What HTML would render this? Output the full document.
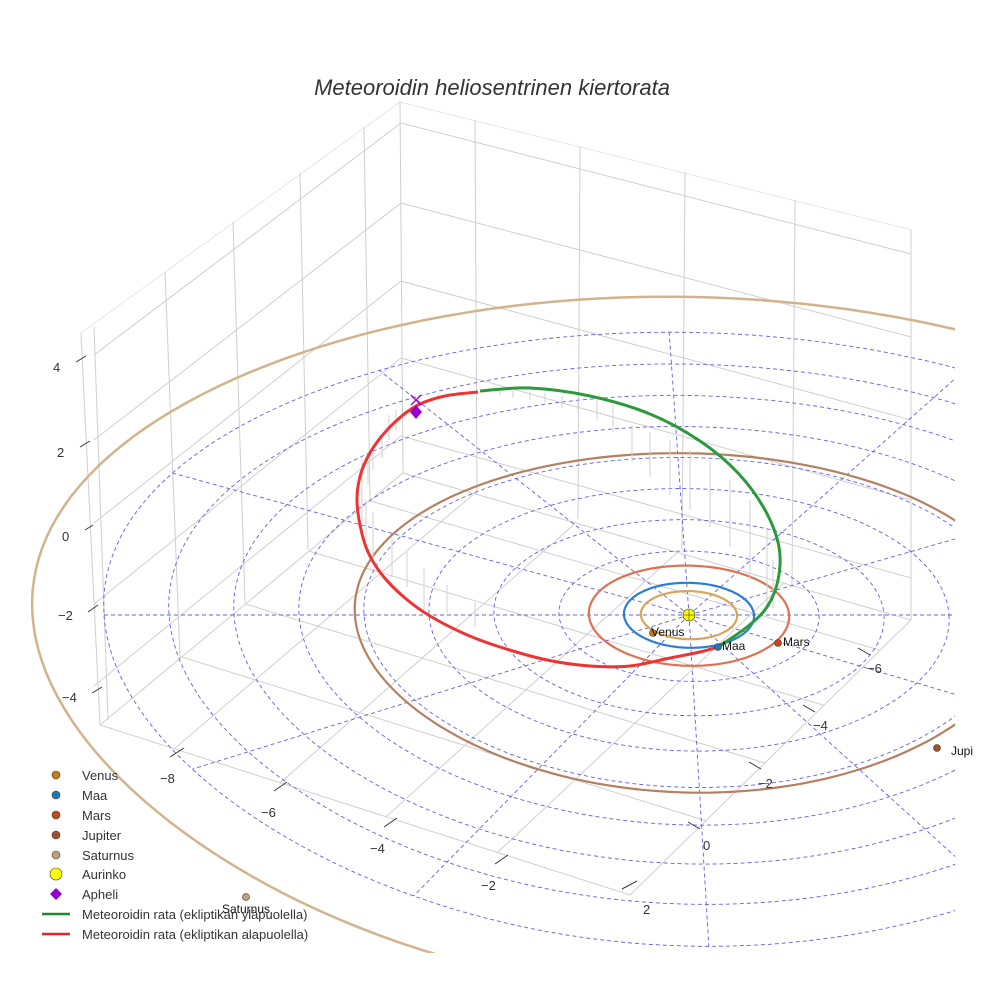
<!DOCTYPE html>
<html><head><meta charset="utf-8"><style>
html,body{margin:0;padding:0;background:#fff}
svg{display:block;font-family:"Liberation Sans",sans-serif}
</style></head><body>
<svg id="s" width="984" height="984" viewBox="0 0 984 984" xmlns="http://www.w3.org/2000/svg">
<defs><clipPath id="c"><rect x="0" y="0" width="955" height="953"/></clipPath></defs>
<rect width="984" height="984" fill="#fff"/>
<text x="492" y="95" text-anchor="middle" font-size="22" font-style="italic" fill="#333">Meteoroidin heliosentrinen kiertorata</text>
<g id="box" stroke="#cfcfcf" stroke-width="1" fill="none"></g>
<g id="eco" clip-path="url(#c)" fill="none"></g>
<g id="top"></g>
</svg>
<script>
const NS="http://www.w3.org/2000/svg";
function el(p,t,a,txt){const e=document.createElementNS(NS,t);for(const k in a)e.setAttribute(k,a[k]);if(txt!==undefined)e.textContent=txt;document.getElementById(p).appendChild(e);return e;}
function L(p,x1,y1,x2,y2,a){el(p,'line',Object.assign({x1,y1,x2,y2},a||{}));}
const B=[403,473],Lc=[100,725],R=[911,620],F=[630,895];
L('box',400,102,81,333,{stroke:'#e6e6e6'});L('box',400,102,912,230,{stroke:'#e6e6e6'});
L('box',400,102,403,473);
const yb=[123,203,281,358,436], yl=[355,440,523,604,686], yr=[254,337,420,500,578];
for(let i=0;i<5;i++){L('box',401,yb[i],94,yl[i]);L('box',401,yb[i],911,yr[i]);}
[[81,333,100,725],[94,327,108,720],[165,272,180,658],[233,222,245,603],[300,173,308,550],[364,127,370,500]].forEach(v=>L('box',...v));
[[475,120,477,494],[580,146,578,519],[685,172,682,550],[795,200,792,585],[911,230,911,620]].forEach(v=>L('box',...v));
L('box',...B,...Lc);L('box',...B,...R);L('box',...Lc,...F);L('box',...F,...R);
function bil(s,t){
 const x=B[0]*(1-s)*(1-t)+R[0]*s*(1-t)+Lc[0]*(1-s)*t+F[0]*s*t;
 const y=B[1]*(1-s)*(1-t)+R[1]*s*(1-t)+Lc[1]*(1-s)*t+F[1]*s*t;return [x,y];}
[0.11,0.31,0.52,0.73].forEach(t=>{const a=bil(0,t),b=bil(1,t);L('box',...a,...b);});
[0.14,0.34,0.54,0.75].forEach(s=>{const a=bil(s,0),b=bil(s,1);L('box',...a,...b);});
[[76,362,86,356],[80,447,90,441],[85,530,93,525],[88,612,98,605],[92,693,102,687]].forEach(t=>L('top',t[0],t[1],t[2],t[3],{stroke:'#333'}));
[["4",53,372],["2",57,457],["0",62,541],["−2",58,620],["−4",62,702]].forEach(t=>el('top','text',{x:t[1],y:t[2],'font-size':13,fill:'#333'},t[0]));
[[170,757,184,748,"−8",160,783],[274,791,287,782,"−6",261,817],[384,827,397,818,"−4",370,853],[495,864,508,855,"−2",481,890],[622,889,637,881,"2",643,914]].forEach(t=>{L('top',t[0],t[1],t[2],t[3],{stroke:'#333'});el('top','text',{x:t[5],y:t[6],'font-size':13,fill:'#333'},t[4]);});
[[858,648,870,655,"−6",867,673],[803,705,815,712,"−4",813,730],[749,762,761,769,"−2",758,788],[688,822,700,829,"0",703,850]].forEach(t=>{L('top',t[0],t[1],t[2],t[3],{stroke:'#333'});el('top','text',{x:t[5],y:t[6],'font-size':13,fill:'#333'},t[4]);});
function P(u,v){return [689+65*u+2.2*v,615+32.5*v+0.3*v*v+0.02*v*v*v];}
function ring(r){let d='';for(let i=0;i<=180;i++){const a=i/180*2*Math.PI;const p=P(r*Math.cos(a),r*Math.sin(a));d+=(i?'L':'M')+p[0].toFixed(1)+' '+p[1].toFixed(1);}return d;}
for(let k=1;k<=9;k++)el('eco','path',{d:ring(k),stroke:'#6060e8','stroke-width':0.9,'stroke-dasharray':'4 3'});
for(let k=0;k<12;k++){const a=k*Math.PI/6;const p=P(9*Math.cos(a),9*Math.sin(a));L('eco',689,615,p[0],p[1],{stroke:'#6060e8','stroke-width':0.9,'stroke-dasharray':'4 3'});}
[[10.1,'#d2b48c',2.5],[5.14,'#b5805f',2.2],[1.54,'#e07050',2.2],[1.0,'#2a7fd4',2.2],[0.74,'#d9a55a',2.2]].forEach(o=>el('eco','path',{d:ring(o[0]),stroke:o[1],'stroke-width':o[2]}));
const stems=[[362,460,520],[368,452,485],[373,445,470],[382,437,458],[389,415,440],[396,410,430],[366,500,540],[373,512,560],[392,538,577],[407,552,587],[424,568,612],[447,585,613],[475,602,627],
[500,390,395],[513,391,398],[530,392,400],[545,393,405],[562,396,408],[578,398,413],[597,400,420],[613,405,432],[632,425,462],[650,432,477],[670,440,495],[690,450,510],[710,460,527],[730,480,547],[750,500,580],[767,530,605],[773,560,608]];
stems.forEach(s=>L('eco',s[0],s[1],s[0],s[2],{stroke:'#d0d0d0','stroke-width':1}));
function cr(pts){let d='M'+pts[0].join(' ');for(let i=0;i<pts.length-1;i++){const p0=pts[Math.max(i-1,0)],p1=pts[i],p2=pts[i+1],p3=pts[Math.min(i+2,pts.length-1)];
 d+=` C${p1[0]+(p2[0]-p0[0])/6} ${p1[1]+(p2[1]-p0[1])/6} ${p2[0]-(p3[0]-p1[0])/6} ${p2[1]-(p3[1]-p1[1])/6} ${p2[0]} ${p2[1]}`;}return d;}
const red=[[478,392],[445,396],[418,405],[395,422],[375,445],[362,470],[357,497],[360,525],[368,552],[383,576],[405,598],[430,616],[465,634],[500,647],[547,660],[590,666],[630,666],[670,658],[700,652],[718,647]];
const green=[[718,647],[747,627],[767,607],[778,580],[779,547],[765,510],[738,473],[700,441],[650,414],[590,396],[530,388],[480,391]];
el('eco','path',{d:cr(red),stroke:'#ee3333','stroke-width':3});
el('eco','path',{d:cr(green),stroke:'#2a9a3a','stroke-width':3});
function dot(x,y,r,f){el('eco','circle',{cx:x,cy:y,r,fill:f,stroke:'#333','stroke-width':0.6});}
dot(689,615,6,'#ffff00');L('eco',683,615,695,615,{stroke:'#666','stroke-width':0.8});L('eco',689,609,689,621,{stroke:'#666','stroke-width':0.8});
dot(653,633,3.5,'#c97a10');dot(718,647,3.5,'#1f77b4');dot(778,643,3.5,'#c8461e');dot(937,748,3.5,'#a0522d');dot(246,897,3.5,'#c4a07a');
el('top','text',{x:651,y:636,'font-size':12,fill:'#111'},'Venus');
el('top','text',{x:722,y:650,'font-size':12,fill:'#111'},'Maa');
el('top','text',{x:783,y:646,'font-size':12,fill:'#111'},'Mars');
el('top','text',{x:951,y:755,'font-size':12,fill:'#111'},'Jupi');
el('top','text',{x:222,y:913,'font-size':12,fill:'#111'},'Saturnus');
el('top','path',{d:'M416 405 L422 412 L416 419 L410 412Z',fill:'#9400d3'});
L('top',411,395,421,405,{stroke:'#9400d3','stroke-width':1.3});L('top',421,395,411,405,{stroke:'#9400d3','stroke-width':1.3});
const lg=[['Venus','#c97a10'],['Maa','#1f77b4'],['Mars','#c8461e'],['Jupiter','#a0522d'],['Saturnus','#c4a07a']];
lg.forEach((l,i)=>{const y=775+i*20;dot(56,y,4,l[1]);el('top','text',{x:82,y:y+5,'font-size':13,fill:'#333'},l[0]);});
el('top','circle',{cx:56,cy:874,r:6,fill:'#ffff00',stroke:'#333','stroke-width':0.6});el('top','text',{x:82,y:879,'font-size':13,fill:'#333'},'Aurinko');
el('top','path',{d:'M56 888 L62 894 L56 900 L50 894Z',fill:'#9400d3'});el('top','text',{x:82,y:899,'font-size':13,fill:'#333'},'Apheli');
L('top',42,914,70,914,{stroke:'#1a8a2a','stroke-width':2.5});el('top','text',{x:82,y:919,'font-size':13,fill:'#333'},'Meteoroidin rata (ekliptikan yläpuolella)');
L('top',42,934,70,934,{stroke:'#ee2222','stroke-width':2.5});el('top','text',{x:82,y:939,'font-size':13,fill:'#333'},'Meteoroidin rata (ekliptikan alapuolella)');
</script>
</body></html>
